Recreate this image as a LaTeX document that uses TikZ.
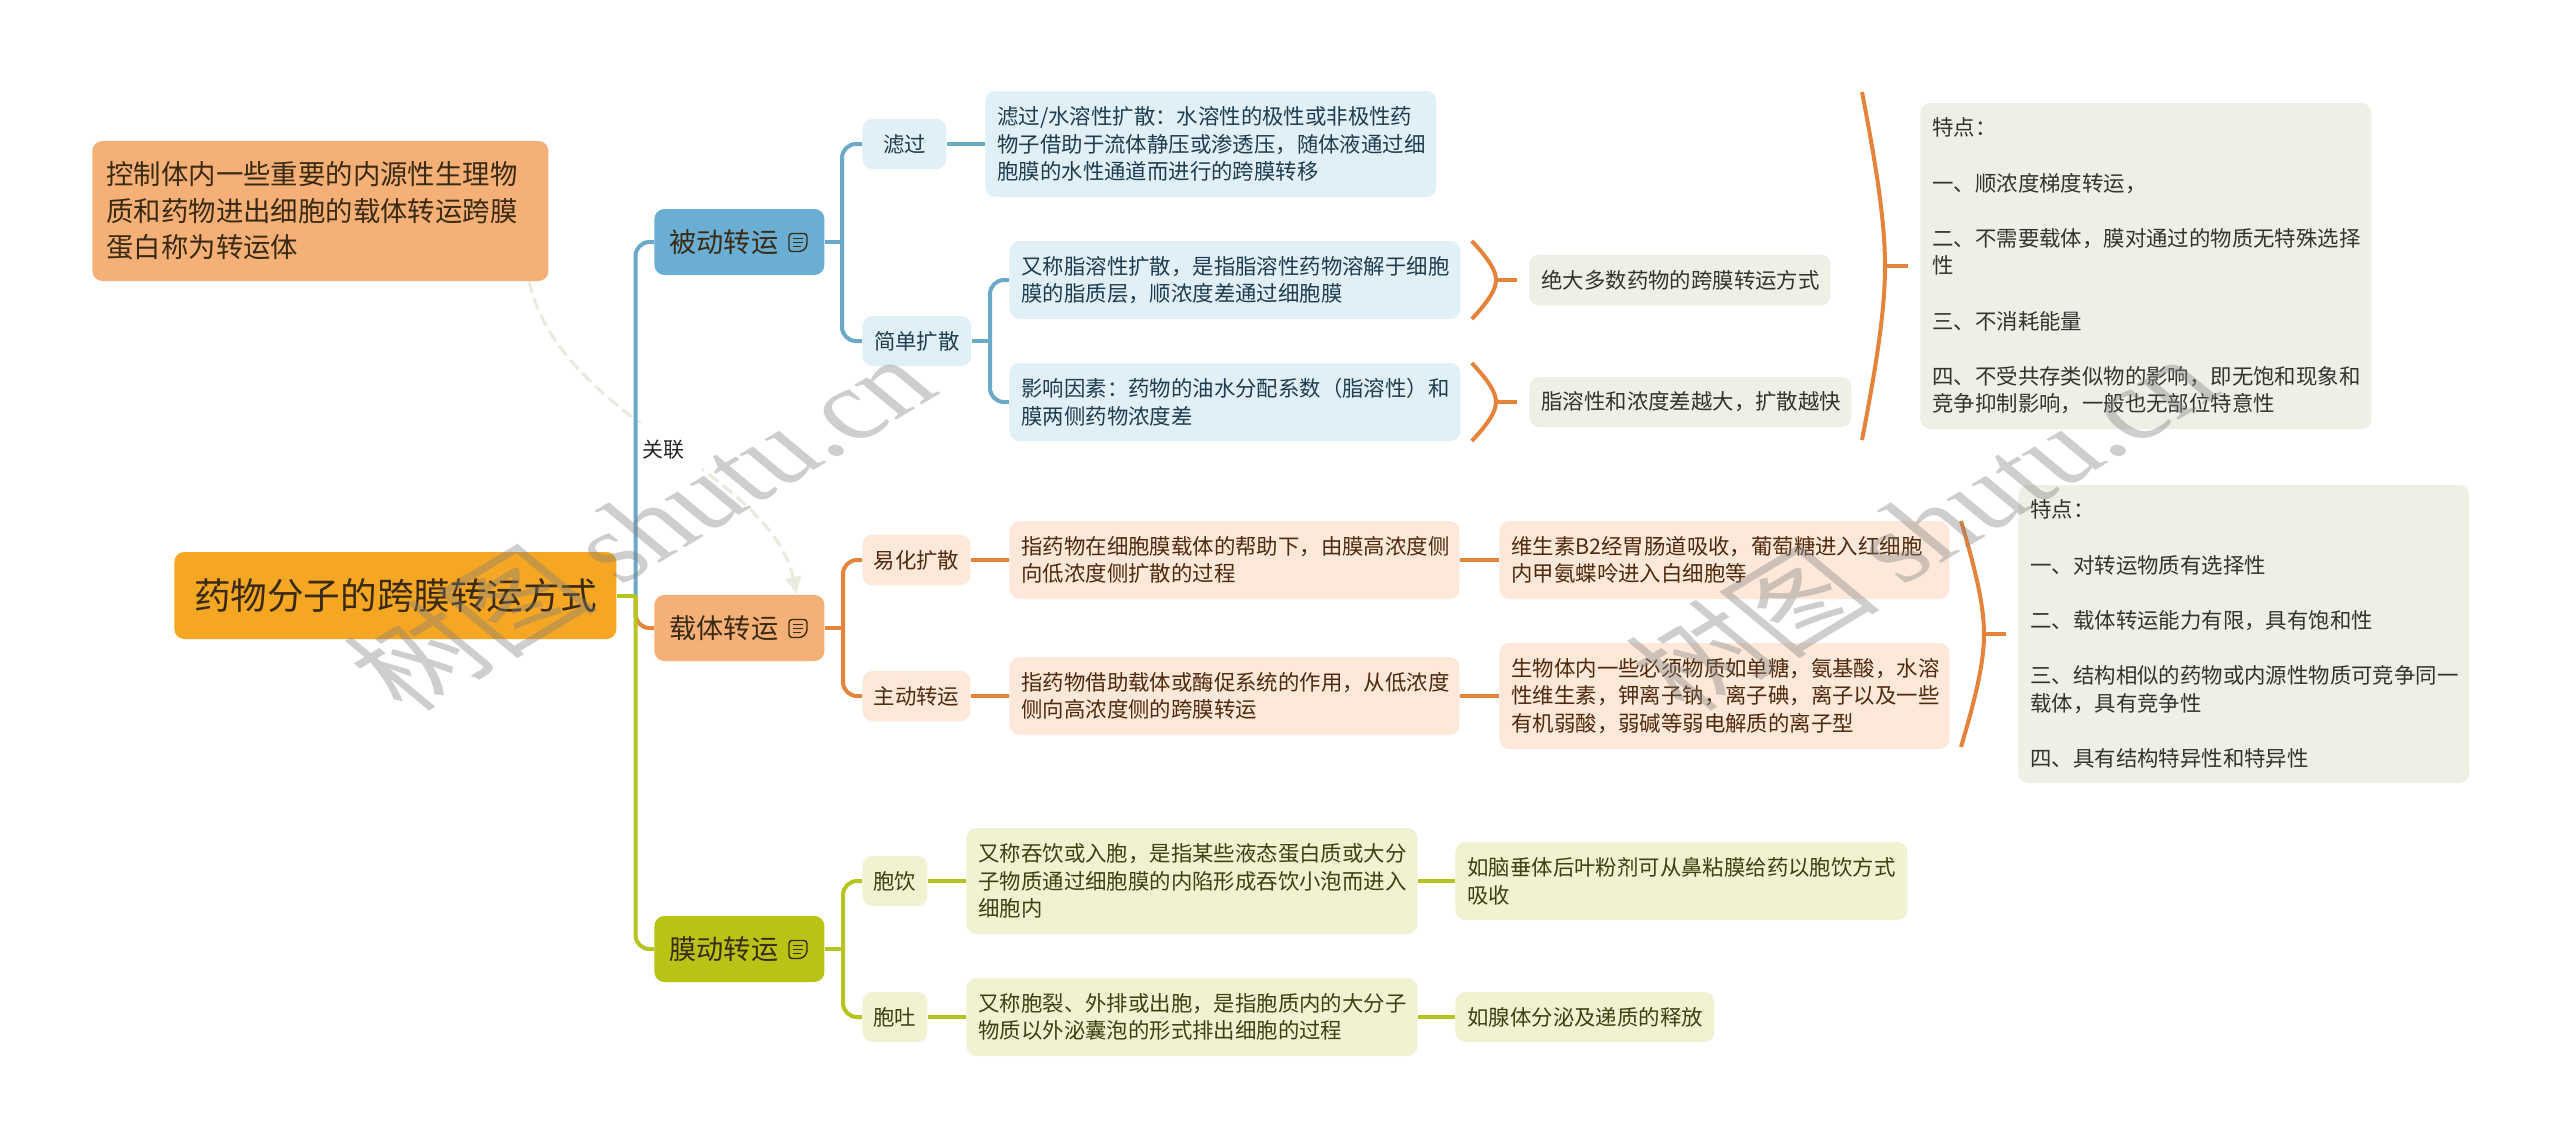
\documentclass[tikz,border=0pt]{standalone}
\usepackage{fontspec}
\setmainfont{Noto Sans CJK SC}
\newfontfamily\markfont{Liberation Serif}
\usetikzlibrary{arrows.meta,backgrounds}

\definecolor{rootfill}{HTML}{F5A623}
\definecolor{inkdark}{HTML}{3A2A12}
\definecolor{blueline}{HTML}{6CA9C8}
\definecolor{bluefill}{HTML}{6AAED3}
\definecolor{bluepale}{HTML}{E1EFF7}
\definecolor{blueink}{HTML}{1F3D4F}
\definecolor{orangeline}{HTML}{E5833A}
\definecolor{orangefill}{HTML}{F4B077}
\definecolor{orangepale}{HTML}{FDE8D9}
\definecolor{orangeink}{HTML}{4F2A0C}
\definecolor{greenline}{HTML}{B5C41E}
\definecolor{greenfill}{HTML}{B8C415}
\definecolor{greenpale}{HTML}{F0F2D2}
\definecolor{greenink}{HTML}{3D4210}
\definecolor{graypale}{HTML}{EFEFE6}
\definecolor{grayink}{HTML}{333330}
\definecolor{relcolor}{HTML}{E9EBDF}

\newcommand{\bodyfont}{\fontsize{10.7}{13.8}\selectfont}

\tikzset{
    base/.style={rounded corners=5pt, anchor=west, inner sep=0pt},
    branch/.style={base, align=left, text width=70pt, inner xsep=7.5pt,
        minimum height=33pt, font=\fontsize{13.6}{16}\selectfont, text=inkdark},
    tagbox/.style 2 args={base, align=center, font=\bodyfont,
        minimum width=#1*0.5pt, minimum height=#2*0.5pt},
    leaf/.style 2 args={base, align=left, font=\bodyfont,
        text width=#1*0.5pt-12pt, inner xsep=6pt, minimum height=#2*0.5pt},
    blueset/.style={fill=bluepale, text=blueink},
    orangeset/.style={fill=orangepale, text=orangeink},
    greenset/.style={fill=greenpale, text=greenink},
    grayset/.style={fill=graypale, text=grayink},
    link/.style={line width=2pt, rounded corners=7pt},
    markstyle/.style={rotate=31, xslant=-0.35, transform shape, text=gray, opacity=0.38,
        font=\fontsize{56}{60}\selectfont},
    docicon/.pic={
        \draw[line width=0.7pt, rounded corners=1.5pt, draw=inkdark]
            (-9,-9) -- (9,-9) -- (9,4) -- (4,9) -- (-9,9) -- cycle;
        \draw[line width=0.7pt, draw=inkdark] (-5,-4) -- (5,-4) (-5,0) -- (5,0) (-5,4) -- (3,4);
    },
    bracket/.pic={
        \draw[line width=2pt, draw=orangeline]
            (-#1*0.62,-#1) .. controls (-#1*0.2,-#1*0.55) and (0,-#1*0.25) .. (0,0)
            .. controls (0,#1*0.25) and (-#1*0.2,#1*0.55) .. (-#1*0.62,#1);
    },
    bracketwide/.pic={
        \draw[line width=2pt, draw=orangeline]
            (-23,-#1) .. controls (-8,-#1*0.55) and (0,-#1*0.25) .. (0,0)
            .. controls (0,#1*0.25) and (-8,#1*0.55) .. (-23,#1);
    },
}

\begin{document}
\begin{tikzpicture}[x=0.5pt, y=-0.5pt]
    \useasboundingbox (0,0) rectangle (2560,1147);

    % Root and side note
    \node[base, fill=rootfill, text=inkdark, minimum width=221pt, minimum height=43.5pt,
        font=\fontsize{18.3}{22}\selectfont] (root) at (174,595.5) {药物分子的跨膜转运方式};
    \node[base, fill=orangefill, text=inkdark, align=left, text width=214pt, inner xsep=7pt,
        minimum height=70pt, font=\fontsize{13.7}{18.3}\selectfont] (note) at (92,211)
        {控制体内一些重要的内源性生理物\\质和药物进出细胞的载体转运跨膜\\蛋白称为转运体};

    % Branches
    \node[branch, fill=bluefill] (passive) at (654,242) {被动转运};
    \node[branch, fill=orangefill] (carrier) at (654,628) {载体转运};
    \node[branch, fill=greenfill] (membrane) at (654,949) {膜动转运};
    \pic at (798,242.5) {docicon};
    \pic at (798,628.5) {docicon};
    \pic at (798,949.5) {docicon};

    % Passive transport
    \node[tagbox={84}{50}, blueset] (filter) at (862,144) {滤过};
    \node[tagbox={109}{50}, blueset] (simple) at (862,341) {简单扩散};
    \node[leaf={451}{106}, blueset] (filterText) at (985,144)
        {滤过/水溶性扩散：水溶性的极性或非极性药\\物子借助于流体静压或渗透压，随体液通过细\\胞膜的水性通道而进行的跨膜转移};
    \node[leaf={451}{78}, blueset] (lipidText) at (1009,280)
        {又称脂溶性扩散，是指脂溶性药物溶解于细胞\\膜的脂质层，顺浓度差通过细胞膜};
    \node[leaf={451}{78}, blueset] (factorText) at (1009,402)
        {影响因素：药物的油水分配系数（脂溶性）和\\膜两侧药物浓度差};
    \node[leaf={301}{51}, grayset] (lipidNote) at (1529,280) {绝大多数药物的跨膜转运方式};
    \node[leaf={322}{50}, grayset] (factorNote) at (1529,402) {脂溶性和浓度差越大，扩散越快};
    \node[leaf={451}{326}, grayset] (passiveNote) at (1920,266)
        {特点：\\[13.8pt]一、顺浓度梯度转运，\\[13.8pt]二、不需要载体，膜对通过的物质无特殊选择\\性\\[13.8pt]三、不消耗能量\\[13.8pt]四、不受共存类似物的影响，即无饱和现象和\\竞争抑制影响，一般也无部位特意性};

    % Carrier transport
    \node[tagbox={108}{51}, orangeset] (ease) at (862,560) {易化扩散};
    \node[tagbox={108}{50}, orangeset] (active) at (862,696) {主动转运};
    \node[leaf={450}{78}, orangeset] (easeText) at (1009,560)
        {指药物在细胞膜载体的帮助下，由膜高浓度侧\\向低浓度侧扩散的过程};
    \node[leaf={450}{78}, orangeset] (activeText) at (1009,696)
        {指药物借助载体或酶促系统的作用，从低浓度\\侧向高浓度侧的跨膜转运};
    \node[leaf={450}{78}, orangeset] (easeNote) at (1499,560)
        {维生素B2经胃肠道吸收，葡萄糖进入红细胞\\内甲氨蝶呤进入白细胞等};
    \node[leaf={450}{106}, orangeset] (activeNote) at (1499,696)
        {生物体内一些必须物质如单糖，氨基酸，水溶\\性维生素，钾离子钠，离子碘，离子以及一些\\有机弱酸，弱碱等弱电解质的离子型};
    \node[leaf={451}{298}, grayset] (carrierNote) at (2018,634)
        {特点：\\[13.8pt]一、对转运物质有选择性\\[13.8pt]二、载体转运能力有限，具有饱和性\\[13.8pt]三、结构相似的药物或内源性物质可竞争同一\\载体，具有竞争性\\[13.8pt]四、具有结构特异性和特异性};

    % Membrane transport
    \node[tagbox={65}{50}, greenset] (pino) at (862,881) {胞饮};
    \node[tagbox={65}{50}, greenset] (exo) at (862,1017) {胞吐};
    \node[leaf={451}{106}, greenset] (pinoText) at (966,881)
        {又称吞饮或入胞，是指某些液态蛋白质或大分\\子物质通过细胞膜的内陷形成吞饮小泡而进入\\细胞内};
    \node[leaf={451}{78}, greenset] (exoText) at (966,1017)
        {又称胞裂、外排或出胞，是指胞质内的大分子\\物质以外泌囊泡的形式排出细胞的过程};
    \node[leaf={452}{78}, greenset] (pinoNote) at (1455,881)
        {如脑垂体后叶粉剂可从鼻粘膜给药以胞饮方式\\吸收};
    \node[leaf={259}{50}, greenset] (exoNote) at (1455,1017) {如腺体分泌及递质的释放};

    % Junctions
    \coordinate (trunk) at (635.5,595.5);
    \coordinate (passiveJoin) at (842,242);
    \coordinate (simpleJoin) at (990,341);
    \coordinate (carrierJoin) at (843,628);
    \coordinate (membraneJoin) at (843,949);

    % Brackets
    \pic at (1496,280) {bracket=39};
    \pic at (1496,402) {bracket=39};
    \pic at (1885,266) {bracketwide=174};
    \pic at (1984,634) {bracketwide=113};
    \coordinate (lipidTip) at (1496,280);
    \coordinate (factorTip) at (1496,402);
    \coordinate (passiveTip) at (1885,266);
    \coordinate (carrierTip) at (1984,634);
    \coordinate (lipidEnd) at (1517,280);
    \coordinate (factorEnd) at (1517,402);
    \coordinate (passiveEnd) at (1908,266);
    \coordinate (carrierEnd) at (2006,634);
    \draw[link, orangeline] (lipidTip) -- (lipidEnd);
    \draw[link, orangeline] (factorTip) -- (factorEnd);
    \draw[link, orangeline] (passiveTip) -- (passiveEnd);
    \draw[link, orangeline] (carrierTip) -- (carrierEnd);

    \begin{pgfonlayer}{background}
        \fill[white] (0,0) rectangle (2560,1147);

        % Relation between the note and the carrier branch
        \coordinate (relStart) at (529,281);
        \coordinate (relEnd) at (797,595);
        \draw[relcolor, line width=1.6pt, dash pattern=on 6pt off 3pt, -{Latex[length=9pt,width=9pt]}]
            (relStart) .. controls (560,420) and (770,470) .. (relEnd);
        \node[fill=white, inner sep=0pt, minimum width=39pt, minimum height=27pt,
            font=\fontsize{10.5}{13}\selectfont, text=black!85] (relLabel) at (663,450) {关联};

        % Connectors
        \draw[link, blueline] (trunk) |- (passive.west);
        \draw[link, orangeline] (trunk) |- (carrier.west);
        \draw[link, greenline] (trunk) |- (membrane.west);
        \draw[link, greenline] (root.east) -- (trunk);

        \draw[link, blueline] (passive.east) -- (passiveJoin);
        \draw[link, blueline] (passiveJoin) |- (filter.west);
        \draw[link, blueline] (passiveJoin) |- (simple.west);
        \draw[link, blueline] (filter.east) -- (filterText.west);
        \draw[link, blueline] (simple.east) -- (simpleJoin);
        \draw[link, blueline] (simpleJoin) |- (lipidText.west);
        \draw[link, blueline] (simpleJoin) |- (factorText.west);

        \draw[link, orangeline] (carrier.east) -- (carrierJoin);
        \draw[link, orangeline] (carrierJoin) |- (ease.west);
        \draw[link, orangeline] (carrierJoin) |- (active.west);
        \draw[link, orangeline] (ease.east) -- (easeText.west);
        \draw[link, orangeline] (active.east) -- (activeText.west);
        \draw[link, orangeline] (easeText.east) -- (easeNote.west);
        \draw[link, orangeline] (activeText.east) -- (activeNote.west);

        \draw[link, greenline] (membrane.east) -- (membraneJoin);
        \draw[link, greenline] (membraneJoin) |- (pino.west);
        \draw[link, greenline] (membraneJoin) |- (exo.west);
        \draw[link, greenline] (pino.east) -- (pinoText.west);
        \draw[link, greenline] (exo.east) -- (exoText.west);
        \draw[link, greenline] (pinoText.east) -- (pinoNote.west);
        \draw[link, greenline] (exoText.east) -- (exoNote.west);
    \end{pgfonlayer}

    % Watermarks
    \node[markstyle] (markLeft) at (640,525) {树图 {\markfont shutu.cn}};
    \node[markstyle] (markRight) at (1922,525) {树图 {\markfont shutu.cn}};
\end{tikzpicture}
\end{document}
